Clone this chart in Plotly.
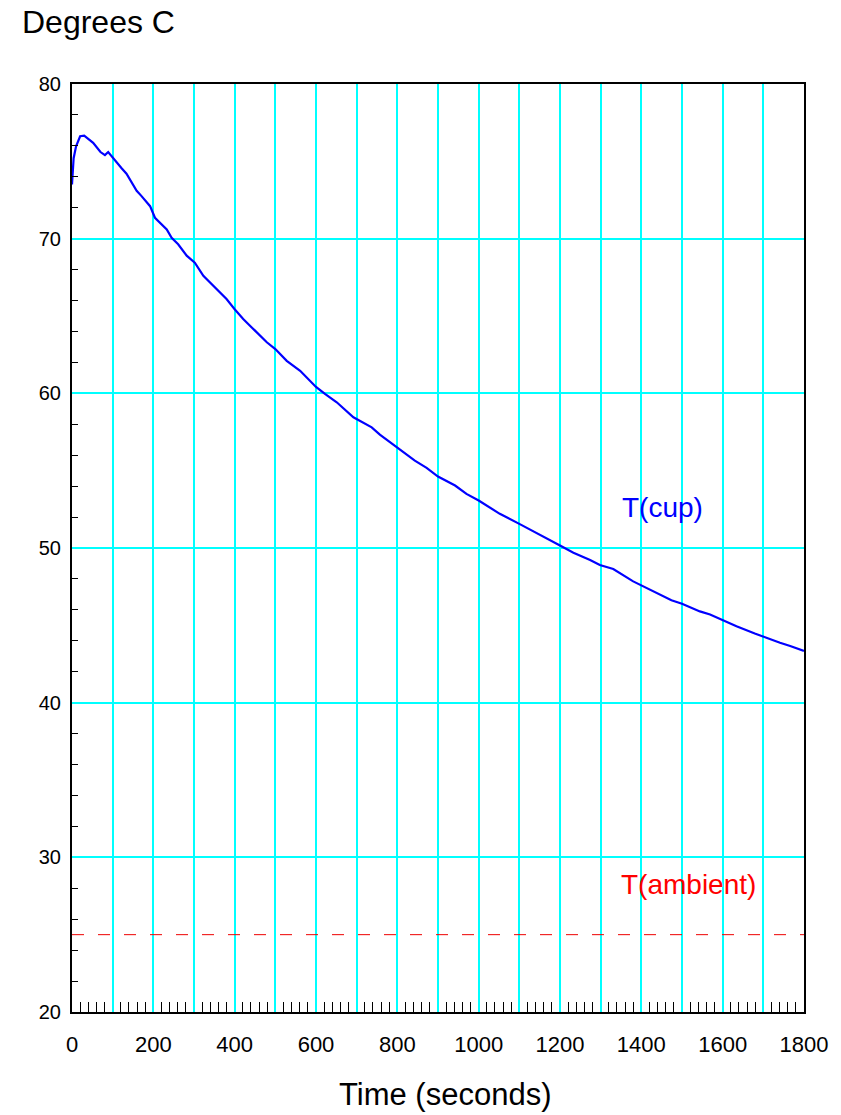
import plotly.graph_objects as go

# Data
time_s = [0, 4, 10, 20, 30, 52, 70, 81, 89, 100,
          122, 134, 159, 171, 192, 204, 220, 233, 245, 261,
          282, 302, 323, 352, 380, 400, 421, 442, 454, 479,
          500, 528, 561, 600, 622, 651, 692, 737, 757, 800,
          843, 872, 900, 942, 970, 1000, 1052, 1100, 1151, 1200,
          1233, 1274, 1298, 1331, 1380, 1400, 1437, 1474, 1500, 1544,
          1569, 1600, 1634, 1679, 1700, 1741, 1766, 1800]
t_cup = [73.5, 75.2, 75.97, 76.62, 76.66, 76.2, 75.6, 75.4, 75.6, 75.23,
         74.55, 74.2, 73.1, 72.75, 72.1, 71.35, 70.93, 70.6, 70.06, 69.64,
         68.9, 68.45, 67.6, 66.84, 66.1, 65.44, 64.8, 64.26, 63.94, 63.3,
         62.86, 62.1, 61.46, 60.41, 59.96, 59.42, 58.45, 57.8, 57.33, 56.47,
         55.65, 55.18, 54.62, 54.04, 53.5, 53.07, 52.21, 51.56, 50.87, 50.16,
         49.7, 49.23, 48.9, 48.64, 47.84, 47.57, 47.1, 46.62, 46.4, 45.9,
         45.7, 45.33, 44.94, 44.47, 44.26, 43.87, 43.66, 43.35]
ambient_x = [0, 1800]
ambient_y = [25, 25]

x_grid_vals = list(range(0, 1801, 100))
x_tick_text = [str(v) if v % 200 == 0 else "" for v in x_grid_vals]
x_minor_vals = [v for v in range(0, 1801, 20) if v % 100 != 0]
y_grid_vals = list(range(20, 81, 10))
y_tick_text = [str(v) for v in y_grid_vals]
y_minor_vals = [v for v in range(20, 81, 2) if v % 10 != 0]

FONT = "Liberation Sans, Arial, Helvetica, sans-serif"

fig = go.Figure()
fig.add_trace(go.Scatter(x=ambient_x, y=ambient_y, mode="lines",
                         line=dict(color="#ee0000", width=1, dash="12px,14px"),
                         hoverinfo="skip"))
fig.add_trace(go.Scatter(x=time_s, y=t_cup, mode="lines",
                         line=dict(color="#0000ff", width=2.2)))

fig.update_layout(
    width=841, height=1115,
    margin=dict(l=72, r=37, t=84, b=103),
    paper_bgcolor="white", plot_bgcolor="white",
    showlegend=False,
    font=dict(family=FONT, color="black"),
    xaxis=dict(range=[0, 1800], tickmode="array", tickvals=x_grid_vals,
               ticktext=x_tick_text, ticks="", showgrid=True,
               gridcolor="#00ffff", gridwidth=1.5,
               showline=True, linecolor="black", linewidth=2, mirror=True,
               zeroline=False, tickfont=dict(size=22, family=FONT),
               ticklabelstandoff=12,
               minor=dict(tickmode="array", tickvals=x_minor_vals, ticks="inside",
                          ticklen=10, tickcolor="black", tickwidth=1, showgrid=False)),
    yaxis=dict(range=[20, 80], tickmode="array", tickvals=y_grid_vals,
               ticktext=y_tick_text, ticks="", showgrid=True,
               gridcolor="#00ffff", gridwidth=1.5,
               showline=True, linecolor="black", linewidth=2, mirror=True,
               zeroline=False, tickfont=dict(size=20, family=FONT),
               ticklabelstandoff=5,
               minor=dict(tickmode="array", tickvals=y_minor_vals, ticks="inside",
                          ticklen=6, tickcolor="black", tickwidth=1, showgrid=False)),
    annotations=[
        dict(text="T(cup)", x=1451, y=52.6, xref="x", yref="y", showarrow=False,
             font=dict(size=28, color="#0000ff", family=FONT)),
        dict(text="T(ambient)", x=1515, y=28.27, xref="x", yref="y", showarrow=False,
             font=dict(size=28, color="#ff0000", family=FONT)),
        dict(text="Degrees C", x=-0.071, y=1.0884, xref="paper", yref="paper",
             xanchor="left", yanchor="top", showarrow=False,
             font=dict(size=32, family=FONT, color="black")),
        dict(text="Time (seconds)", x=0.5096, y=-0.1099, xref="paper", yref="paper",
             xanchor="center", yanchor="bottom", showarrow=False,
             font=dict(size=31, family=FONT, color="black")),
    ],
)

fig.write_html("out.html",
               config={"displayModeBar": False},
               post_script="document.body.style.margin='0';document.body.style.padding='0';")
